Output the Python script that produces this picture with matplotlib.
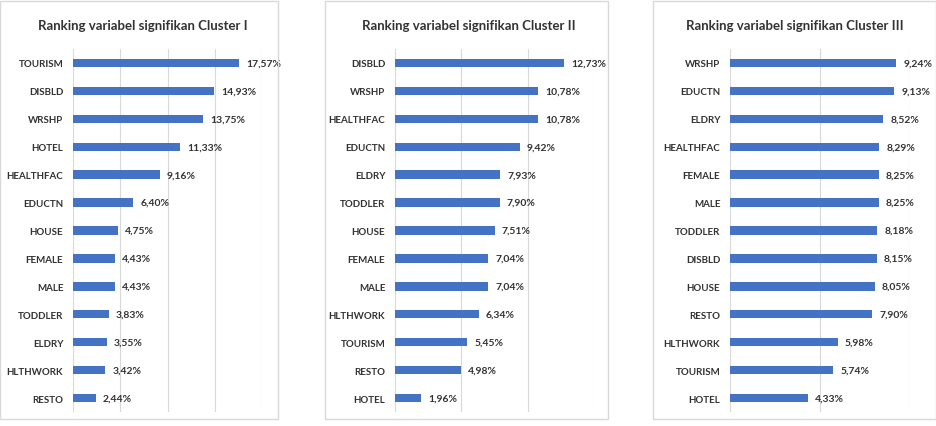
import matplotlib.pyplot as plt
from matplotlib.patches import Rectangle

plt.rcParams['font.family'] = ['Lato', 'DejaVu Sans']

# Cluster I
labels_1 = ['TOURISM', 'DISBLD', 'WRSHP', 'HOTEL', 'HEALTHFAC', 'EDUCTN', 'HOUSE',
            'FEMALE', 'MALE', 'TODDLER', 'ELDRY', 'HLTHWORK', 'RESTO']
values_1 = [17.57, 14.93, 13.75, 11.33, 9.16, 6.40, 4.75, 4.43, 4.43, 3.83, 3.55, 3.42, 2.44]

# Cluster II
labels_2 = ['DISBLD', 'WRSHP', 'HEALTHFAC', 'EDUCTN', 'ELDRY', 'TODDLER', 'HOUSE',
            'FEMALE', 'MALE', 'HLTHWORK', 'TOURISM', 'RESTO', 'HOTEL']
values_2 = [12.73, 10.78, 10.78, 9.42, 7.93, 7.90, 7.51, 7.04, 7.04, 6.34, 5.45, 4.98, 1.96]

# Cluster III
labels_3 = ['WRSHP', 'EDUCTN', 'ELDRY', 'HEALTHFAC', 'FEMALE', 'MALE', 'TODDLER',
            'DISBLD', 'HOUSE', 'RESTO', 'HLTHWORK', 'TOURISM', 'HOTEL']
values_3 = [9.24, 9.13, 8.52, 8.29, 8.25, 8.25, 8.18, 8.15, 8.05, 7.90, 5.98, 5.74, 4.33]

titles = ['Ranking variabel signifikan Cluster I',
          'Ranking variabel signifikan Cluster II',
          'Ranking variabel signifikan Cluster III']

W, H = 936, 427
fig = plt.figure(figsize=(W / 100, H / 100), dpi=100)

bar_color = '#4472C4'
text_color = '#333333'
grid_color = '#D9D9D9'

# panel frames (pixels: x0, x1), axes extents (pixels: left, right), xlim, title center x
panels = [
    (labels_1, values_1, titles[0], (0, 278), (73, 262), 20, 143),
    (labels_2, values_2, titles[1], (325, 608), (395, 594), 15, 469),
    (labels_3, values_3, titles[2], (653, 936), (730, 910), 10, 795),
]

for labels, values, title, (fx0, fx1), (ax0, ax1), xmax, tx in panels:
    fig.patches.append(Rectangle((fx0 / W, 7 / H), (fx1 - fx0) / W, (425 - 7) / H,
                                 transform=fig.transFigure, fill=False,
                                 edgecolor='#D9D9D9', linewidth=1))
    ax = fig.add_axes([ax0 / W, 14 / H, (ax1 - ax0) / W, (413 - 50) / H])
    y = list(range(len(labels)))
    ax.barh(y, values, height=0.3, color=bar_color, zorder=3)
    ax.set_ylim(len(labels) - 0.5, -0.5)
    ax.set_xlim(0, xmax)
    ax.set_yticks(y)
    ax.set_yticklabels(labels, fontsize=7, fontweight='bold', color=text_color)
    ax.set_xticks(range(0, xmax + 1, 5))
    ax.tick_params(axis='x', length=0, labelbottom=False)
    ax.tick_params(axis='y', length=0, pad=7)
    ax.grid(axis='x', color=grid_color, linewidth=0.8, zorder=0)
    for s in ax.spines.values():
        s.set_visible(False)
    for yi, v in zip(y, values):
        ax.annotate(f'{v:.2f}%'.replace('.', ','), (v, yi), xytext=(5, 0),
                    textcoords='offset points', va='center', ha='left',
                    fontsize=7.5, fontweight='bold', color=text_color, zorder=4)
    fig.text(tx / W, 1 - 26 / H, title, ha='center', va='center',
             fontsize=9.5, fontweight='bold', color='#333333')

fig.savefig('out.png', dpi=100)
